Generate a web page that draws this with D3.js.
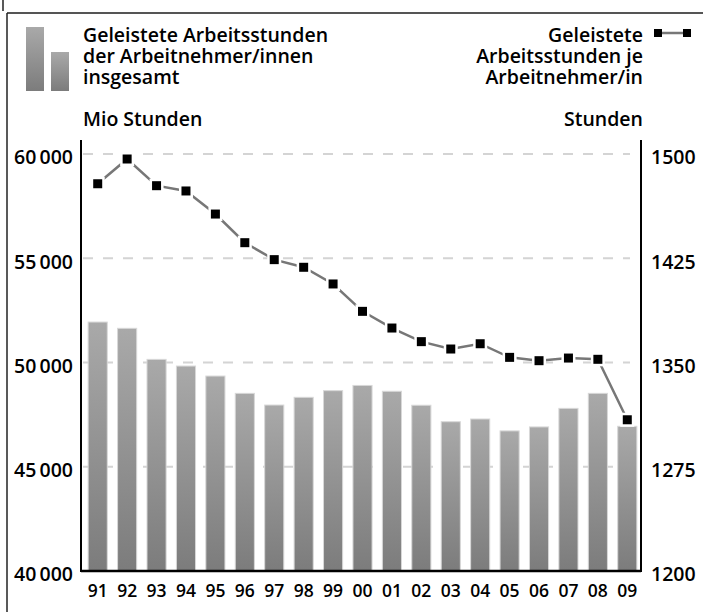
<!DOCTYPE html>
<html><head><meta charset="utf-8">
<script src="https://cdn.jsdelivr.net/npm/d3@7"></script>
<style>
html,body{margin:0;padding:0;background:#fff;}
svg{display:block;font-family:"Open Sans",sans-serif;}
</style></head>
<body>
<svg id="chart" width="703" height="612"></svg>
<script>
const years = ["91","92","93","94","95","96","97","98","99","00","01","02","03","04","05","06","07","08","09"];
const totalHours = [51940,51640,50150,49830,49350,48520,47960,48330,48650,48900,48620,47950,47160,47290,46720,46910,47800,48520,46940];
const hoursPerEmployee = [1478.6,1496.4,1477.2,1473.4,1456.8,1436.2,1424.0,1418.5,1406.5,1386.8,1374.8,1365.0,1359.7,1363.5,1353.7,1351.3,1353.2,1352.3,1308.8];
const leftTicks = [40000,45000,50000,55000,60000];
const rightTicks = [1200,1275,1350,1425,1500];
const leftLegend = ["Geleistete Arbeitsstunden","der Arbeitnehmer/innen","insgesamt"];
const rightLegend = ["Geleistete","Arbeitsstunden je","Arbeitnehmer/in"];
const leftUnit = "Mio Stunden";
const rightUnit = "Stunden";

const svg = d3.select("#chart");
const plotLeft = 81, plotRight = 641, plotTop = 154, plotBottom = 571;
const FS = 19.5;
const INK = "#000";

const x = d3.scaleBand().domain(years).range([83, 642]).paddingInner(0.35).paddingOuter(0.175);
const yL = d3.scaleLinear().domain([40000, 60000]).range([plotBottom, plotTop]);
const yR = d3.scaleLinear().domain([1200, 1500]).range([plotBottom, plotTop]);

const defs = svg.append("defs");
const grad = defs.append("linearGradient").attr("id","barGrad").attr("x1",0).attr("y1",0).attr("x2",0).attr("y2",1);
grad.append("stop").attr("offset","0%").attr("stop-color","#a9a9a9");
grad.append("stop").attr("offset","100%").attr("stop-color","#7c7c7c");

// frame
svg.append("line").attr("x1",3).attr("x2",3).attr("y1",0).attr("y2",11).attr("stroke","#222").attr("stroke-width",1.5);
svg.append("line").attr("x1",7).attr("x2",703).attr("y1",13).attr("y2",13).attr("stroke","#555").attr("stroke-width",2);
svg.append("line").attr("x1",7).attr("x2",7).attr("y1",13).attr("y2",612).attr("stroke","#222").attr("stroke-width",1.5);

// legend left
svg.append("rect").attr("x",26).attr("y",27).attr("width",18).attr("height",64).attr("fill","url(#barGrad)");
svg.append("rect").attr("x",51).attr("y",52).attr("width",18).attr("height",39).attr("fill","url(#barGrad)");
leftLegend.forEach((s,i)=> svg.append("text").attr("x",83).attr("y",42+i*21)
  .attr("font-size",FS).attr("font-weight",600).attr("fill",INK).text(s));
svg.append("text").attr("x",83).attr("y",126).attr("font-size",FS).attr("font-weight",600).attr("fill",INK).text(leftUnit);

// legend right
rightLegend.forEach((s,i)=> svg.append("text").attr("x",643).attr("y",42+i*21).attr("text-anchor","end")
  .attr("font-size",FS).attr("font-weight",600).attr("fill",INK).text(s));
svg.append("text").attr("x",643).attr("y",126).attr("text-anchor","end").attr("font-size",FS).attr("font-weight",600).attr("fill",INK).text(rightUnit);
svg.append("line").attr("x1",662).attr("x2",683).attr("y1",33).attr("y2",33).attr("stroke","#777").attr("stroke-width",2.5);
svg.append("rect").attr("x",654).attr("y",29).attr("width",8).attr("height",8).attr("fill","#000");
svg.append("rect").attr("x",683).attr("y",29).attr("width",8).attr("height",8).attr("fill","#000");

// gridlines
svg.append("g").selectAll("line").data(leftTicks.filter(d=>d>40000)).join("line")
  .attr("x1",83).attr("x2",630).attr("y1",d=>yL(d)).attr("y2",d=>yL(d))
  .attr("stroke","#d4d4d4").attr("stroke-width",2).attr("stroke-dasharray","10,10");

// bars
svg.append("g").selectAll("rect").data(years).join("rect")
  .attr("x",d=>x(d)).attr("width",x.bandwidth())
  .attr("y",(d,i)=>yL(totalHours[i])).attr("height",(d,i)=>plotBottom-yL(totalHours[i]))
  .attr("fill","url(#barGrad)").attr("stroke","#d8d8d8").attr("stroke-width",1);

// axes
const axL = svg.append("g").attr("transform",`translate(${plotLeft},0)`)
  .call(d3.axisLeft(yL).tickValues(leftTicks).tickSize(0).tickPadding(8)
    .tickFormat(d=>d3.format(",")(d).replace(/,/g,"\u2009")));
axL.select(".domain").remove();
axL.selectAll("text").attr("font-size",FS).attr("font-weight",600).attr("fill",INK)
  .attr("font-family","Open Sans, sans-serif").attr("dy","0.5em");

const axR = svg.append("g").attr("transform",`translate(${plotRight},0)`)
  .call(d3.axisRight(yR).tickValues(rightTicks).tickSize(0).tickPadding(10).tickFormat(d3.format("d")));
axR.select(".domain").remove();
axR.selectAll("text").attr("font-size",FS).attr("font-weight",600).attr("fill",INK)
  .attr("font-family","Open Sans, sans-serif").attr("dy","0.5em");

const axB = svg.append("g").attr("transform",`translate(0,${plotBottom})`)
  .call(d3.axisBottom(x).tickSize(0).tickPadding(14));
axB.select(".domain").remove();
axB.selectAll("text").attr("font-size",17.5).attr("font-weight",600).attr("fill",INK).attr("font-family","Open Sans, sans-serif");

svg.append("line").attr("x1",plotLeft).attr("x2",plotLeft).attr("y1",140).attr("y2",plotBottom+1).attr("stroke","#000").attr("stroke-width",2);
svg.append("line").attr("x1",plotRight).attr("x2",plotRight).attr("y1",140).attr("y2",plotBottom+1).attr("stroke","#000").attr("stroke-width",2);
svg.append("line").attr("x1",plotLeft).attr("x2",plotRight).attr("y1",plotBottom).attr("y2",plotBottom).attr("stroke","#000").attr("stroke-width",2.5);

// line series
const pts = years.map((d,i)=>[x(d)+x.bandwidth()/2, yR(hoursPerEmployee[i])]);
svg.append("path").attr("d",d3.line()(pts)).attr("fill","none").attr("stroke","#777").attr("stroke-width",2.5);
svg.append("g").selectAll("rect").data(pts).join("rect")
  .attr("x",p=>p[0]-7).attr("y",p=>p[1]-7).attr("width",14).attr("height",14).attr("fill","#fff");
svg.append("g").selectAll("rect").data(pts).join("rect")
  .attr("x",p=>p[0]-4.5).attr("y",p=>p[1]-4.5).attr("width",9).attr("height",9).attr("fill","#000");
</script>
</body></html>
